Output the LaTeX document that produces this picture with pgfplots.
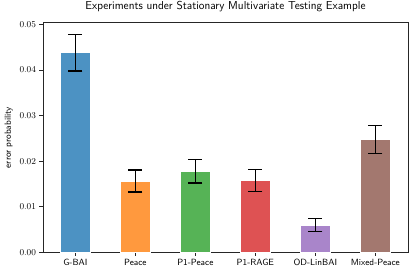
\documentclass[border=0pt]{standalone}
\usepackage{pgfplots}
\pgfplotsset{compat=1.18}
\definecolor{cblue}{RGB}{76,146,195}
\definecolor{corange}{RGB}{255,153,62}
\definecolor{cgreen}{RGB}{86,179,86}
\definecolor{cred}{RGB}{222,82,83}
\definecolor{cpurple}{RGB}{169,133,202}
\definecolor{cbrown}{RGB}{163,120,111}
\begin{document}
\begin{tikzpicture}
\path[use as bounding box] (-43pt,-22.7pt) rectangle (372pt,252.3pt);
\begin{axis}[
  at={(0,0)}, anchor=south west,
  scale only axis, width=365pt, height=229.6pt,
  xmin=-0.54, xmax=5.545, ymin=0, ymax=0.0504,
  ybar, bar width=0.5,
  xtick={0,1,2,3,4,5},
  xticklabels={G-BAI,Peace,P1-Peace,P1-RAGE,OD-LinBAI,Mixed-Peace},
  xticklabel style={font=\sffamily\fontsize{9}{11}\selectfont},
  ytick={0,0.01,0.02,0.03,0.04,0.05},
  yticklabel style={font=\fontsize{9}{11}\selectfont, /pgf/number format/.cd, fixed, fixed zerofill, precision=2},
  scaled y ticks=false,
  tick align=outside, xtick pos=bottom, ytick pos=left,
  major tick length=3.5pt,
  tick style={line width=0.8pt, black!85},
  axis line style={line width=0.8pt, black!85},
  ylabel={error probability},
  ylabel style={font=\sffamily\fontsize{9}{11}\selectfont},
  title={Experiments under Stationary Multivariate Testing Example},
  title style={font=\sffamily\fontsize{11.5}{13}\selectfont, at={(axis description cs:0.5,1)}, anchor=south, yshift=1pt},
  every axis plot/.append style={bar shift=0pt, draw=white!60, line width=0.6pt},
  error bars/y dir=both, error bars/y explicit,
  error bars/error bar style={line width=1.2pt, black},
  error bars/error mark options={rotate=90, mark size=7pt, line width=1.2pt, black},
]
\addplot[fill=cblue] coordinates {(0,0.0438) +- (0,0.0040)};
\addplot[fill=corange] coordinates {(1,0.01565) +- (0,0.0024)};
\addplot[fill=cgreen] coordinates {(2,0.0178) +- (0,0.0026)};
\addplot[fill=cred] coordinates {(3,0.0157) +- (0,0.0024)};
\addplot[fill=cpurple] coordinates {(4,0.0060) +- (0,0.0015)};
\addplot[fill=cbrown] coordinates {(5,0.0248) +- (0,0.0031)};
\end{axis}
\end{tikzpicture}
\end{document}
